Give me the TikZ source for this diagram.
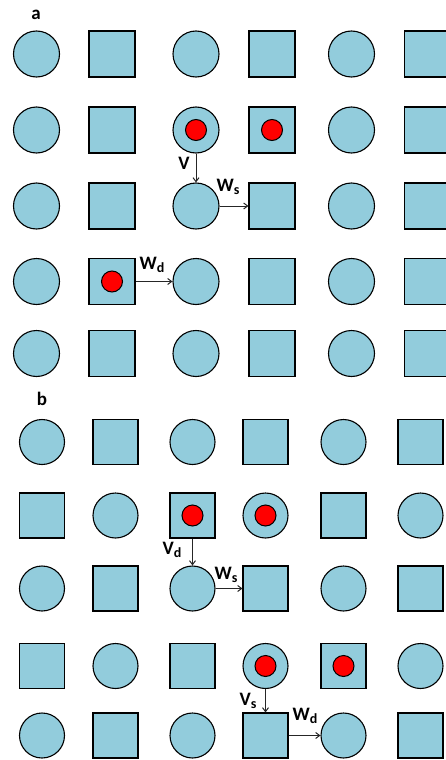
\documentclass[tikz,border=0pt]{standalone}
\usepackage{fontspec}
\setmainfont{Carlito}
\usetikzlibrary{arrows.meta}
\definecolor{cellblue}{RGB}{146,204,220}
\tikzset{
  rdcell/.style={circle,draw=black,line width=1.1pt,fill=cellblue,minimum size=46pt,inner sep=0pt},
  sqcell/.style={rectangle,draw=black,line width=1.1pt,fill=cellblue,minimum size=46pt,inner sep=0pt},
  rdcellb/.style={rdcell,minimum size=45pt},
  sqcellb/.style={sqcell,minimum size=45pt},
  reddot/.style={circle,draw=black,line width=1pt,fill=red,minimum size=21pt,inner sep=0pt},
  arr/.style={draw=black!85,line width=1pt,-{Straight Barb[length=4pt,width=6pt]}},
  lab/.style={font=\bfseries\fontsize{19}{21}\selectfont,inner sep=0pt},
  panel/.style={font=\bfseries\fontsize{19}{21}\selectfont,inner sep=0pt}
}
\newcommand{\sbs}[1]{\raisebox{-3pt}{\fontsize{14}{14}\selectfont #1}}
\begin{document}
\begin{tikzpicture}[x=1pt,y=-1pt]
\useasboundingbox (0,0) rectangle (446,760);
% panel a
\node[panel] (la) at (36,15) {a};
\foreach \r/\y in {1/54,2/130,3/206,4/281.5,5/353.5}{
  \foreach \c/\x in {1/36.5,2/112,3/196,4/272,5/351.5,6/427.5}{
    \pgfmathtruncatemacro{\odd}{mod(\c,2)}
    \ifnum\odd=1
      \node[rdcell] (a\r\c) at (\x,\y) {};
    \else
      \node[sqcell] (a\r\c) at (\x,\y) {};
    \fi
  }
}
\node[reddot] (da23) at (a23.center) {};
\node[reddot] (da24) at (a24.center) {};
\node[reddot] (da42) at (a42.center) {};
\draw[arr] (a23.south) -- (a33.north);
\draw[arr] (a33.east) -- (a34.west);
\draw[arr] (a42.east) -- (a43.west);
\node[lab] (lv) at (184,163) {V};
\node[lab] (lws) at (228,187) {W\sbs{s}};
\node[lab] (lwd) at (152,265) {W\sbs{d}};
% panel b
\node[panel] (lb) at (42,399) {b};
\foreach \r/\y in {1/442,2/515.5,3/588.5,4/666,5/735.5}{
  \foreach \c/\x in {1/42,2/115.5,3/192.5,4/265.5,5/343.5,6/420.5}{
    \pgfmathtruncatemacro{\odd}{mod(\c+\r,2)}
    \ifnum\odd=0
      \node[rdcellb] (b\r\c) at (\x,\y) {};
    \else
      \node[sqcellb] (b\r\c) at (\x,\y) {};
    \fi
  }
}
\node[reddot] (db23) at (b23.center) {};
\node[reddot] (db24) at (b24.center) {};
\node[reddot] (db44) at (b44.center) {};
\node[reddot] (db45) at (b45.center) {};
\draw[arr] (b23.south) -- (b33.north);
\draw[arr] (b33.east) -- (b34.west);
\draw[arr] (b44.south) -- (b54.north);
\draw[arr] (b54.east) -- (b55.west);
\node[lab] (lvd) at (172,550) {V\sbs{d}};
\node[lab] (lwsb) at (226,575) {W\sbs{s}};
\node[lab] (lvs) at (248,701) {V\sbs{s}};
\node[lab] (lwdb) at (305,716) {W\sbs{d}};
\end{tikzpicture}
\end{document}
